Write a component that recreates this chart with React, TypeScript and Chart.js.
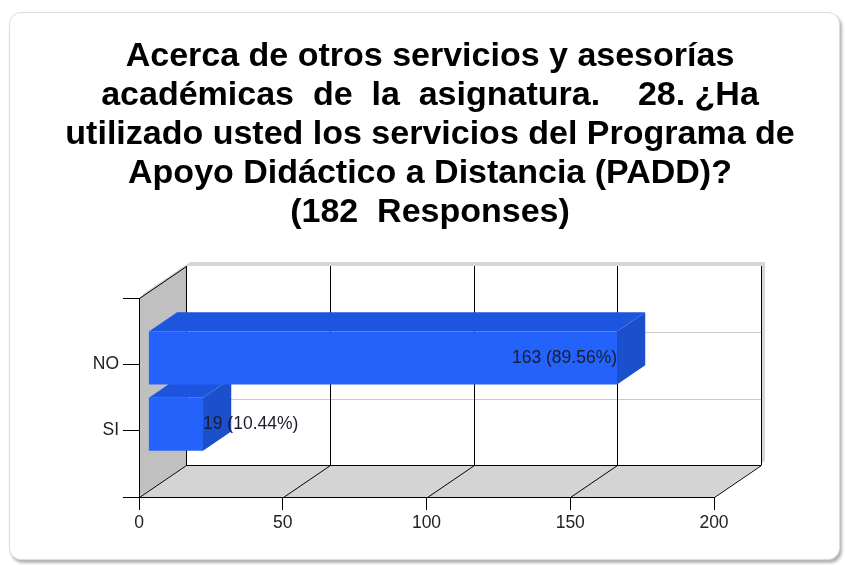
import React, { useEffect, useRef } from 'react';
import { Chart, registerables } from 'chart.js';

Chart.register(...registerables);

// ---- data ----
const TITLE_LINES = [
  'Acerca de otros servicios y asesorías',
  'académicas  de  la  asignatura.    28. ¿Ha',
  'utilizado usted los servicios del Programa de',
  'Apoyo Didáctico a Distancia (PADD)?',
  '(182  Responses)',
];
const CATEGORIES = ['NO', 'SI'];
const VALUES = [163, 19];
const X_MIN = 0;
const X_MAX = 200;
const X_STEP = 50;

// ---- style ----
const FONT = "'Liberation Sans', Arial, Helvetica, sans-serif";
const W = 829;
const H = 546;
const DEPTH = { x: 47, y: -32 };
const BAR_FRONT = 0.2;
const BAR_BACK = 0.8;
const BAR_FRONT_COLOR = '#2463fb';
const BAR_TOP_COLOR = '#1d55df';
const BAR_SIDE_COLOR = '#1c4fcb';

const threeD = {
  id: 'threeD',
  beforeDraw(chart: any) {
    const { ctx, chartArea } = chart;
    const xs = chart.scales.x;
    const ys = chart.scales.y;
    const L = Math.round(xs.getPixelForValue(X_MIN));
    const R = Math.round(xs.getPixelForValue(X_MAX));
    const T = Math.round(chartArea.top);
    const B = Math.round(chartArea.bottom);
    const dx = DEPTH.x;
    const dy = DEPTH.y;
    ctx.save();
    const outline = (ox: number, oy: number) => {
      ctx.beginPath();
      ctx.moveTo(L + ox, T + oy);
      ctx.lineTo(L + dx + ox, T + dy + oy);
      ctx.lineTo(R + dx + ox, T + dy + oy);
      ctx.lineTo(R + dx + ox, B + dy + oy);
      ctx.lineTo(R + ox, B + oy);
      ctx.lineTo(L + ox, B + oy);
      ctx.closePath();
    };
    // shadow
    ctx.fillStyle = '#d6d6d6';
    outline(4, -4);
    ctx.fill();
    // back wall
    ctx.fillStyle = '#ffffff';
    ctx.fillRect(L + dx, T + dy, R - L, B - T);
    // left wall
    ctx.fillStyle = '#c0c0c0';
    ctx.beginPath();
    ctx.moveTo(L, T);
    ctx.lineTo(L + dx, T + dy);
    ctx.lineTo(L + dx, B + dy);
    ctx.lineTo(L, B);
    ctx.closePath();
    ctx.fill();
    // floor
    ctx.fillStyle = '#d4d4d4';
    ctx.beginPath();
    ctx.moveTo(L, B);
    ctx.lineTo(R, B);
    ctx.lineTo(R + dx, B + dy);
    ctx.lineTo(L + dx, B + dy);
    ctx.closePath();
    ctx.fill();

    // horizontal grid on back wall
    ctx.lineWidth = 1;
    ctx.strokeStyle = '#c8c8c8';
    const nLab = chart.data.labels.length;
    for (let i = 1; i < nLab - 1; i++) {
      const y = Math.round(ys.getPixelForValue(i)) + dy + 0.5;
      ctx.beginPath();
      ctx.moveTo(L + dx, y);
      ctx.lineTo(R + dx, y);
      ctx.stroke();
    }
    // vertical grid on back wall + floor diagonals
    ctx.strokeStyle = '#000';
    for (let v = X_MIN; v <= X_MAX; v += X_STEP) {
      const x = Math.round(xs.getPixelForValue(v)) + 0.5;
      ctx.beginPath();
      ctx.moveTo(x + dx, T + dy);
      ctx.lineTo(x + dx, B + dy);
      ctx.stroke();
      ctx.beginPath();
      ctx.moveTo(x, B + 0.5);
      ctx.lineTo(x + dx, B + dy + 0.5);
      ctx.stroke();
    }
    // floor back edge
    ctx.beginPath();
    ctx.moveTo(L + dx, B + dy + 0.5);
    ctx.lineTo(R + dx, B + dy + 0.5);
    ctx.stroke();
    // left wall top edge
    ctx.beginPath();
    ctx.moveTo(L + 0.5, T + 0.5);
    ctx.lineTo(L + dx + 0.5, T + dy + 0.5);
    ctx.stroke();
    ctx.restore();
  },
  beforeDatasetsDraw(chart: any) {
    const { ctx } = chart;
    const meta = chart.getDatasetMeta(0);
    const data = chart.data.datasets[0].data;
    const f1x = DEPTH.x * BAR_FRONT, f1y = DEPTH.y * BAR_FRONT;
    const f2x = DEPTH.x * BAR_BACK, f2y = DEPTH.y * BAR_BACK;
    ctx.save();
    for (let i = meta.data.length - 1; i >= 0; i--) {
      if (data[i] == null) continue;
      const { x, y, base, height } = meta.data[i].getProps(['x', 'y', 'base', 'height'], true);
      const top = y - height / 2;
      const bottom = y + height / 2;
      // side face
      ctx.fillStyle = BAR_SIDE_COLOR;
      ctx.beginPath();
      ctx.moveTo(x + f1x, top + f1y);
      ctx.lineTo(x + f2x, top + f2y);
      ctx.lineTo(x + f2x, bottom + f2y);
      ctx.lineTo(x + f1x, bottom + f1y);
      ctx.closePath();
      ctx.fill();
      // top face
      ctx.fillStyle = BAR_TOP_COLOR;
      ctx.beginPath();
      ctx.moveTo(base + f1x, top + f1y);
      ctx.lineTo(x + f1x, top + f1y);
      ctx.lineTo(x + f2x, top + f2y);
      ctx.lineTo(base + f2x, top + f2y);
      ctx.closePath();
      ctx.fill();
    }
    ctx.restore();
  },
  beforeDatasetDraw(chart: any) {
    chart.ctx.save();
    chart.ctx.translate(DEPTH.x * BAR_FRONT, DEPTH.y * BAR_FRONT);
  },
  afterDatasetDraw(chart: any) {
    chart.ctx.restore();
  },
  afterDatasetsDraw(chart: any) {
    const { ctx } = chart;
    const meta = chart.getDatasetMeta(0);
    const data = chart.data.datasets[0].data;
    const total = VALUES.reduce((a, b) => a + b, 0);
    const f1x = DEPTH.x * BAR_FRONT, f1y = DEPTH.y * BAR_FRONT;
    ctx.save();
    ctx.font = `17.5px ${FONT}`;
    ctx.fillStyle = '#1c1c2c';
    ctx.textBaseline = 'middle';
    for (let i = 0; i < meta.data.length; i++) {
      const v = data[i];
      if (v == null) continue;
      const { x, y, base } = meta.data[i].getProps(['x', 'y', 'base'], true);
      const txt = `${v} (${((v / total) * 100).toFixed(2)}%)`;
      const w = ctx.measureText(txt).width;
      const right = x + f1x;
      if (w + 6 < x - base) {
        ctx.textAlign = 'right';
      } else {
        ctx.textAlign = 'left';
      }
      ctx.fillText(txt, right, y + f1y);
    }
    ctx.restore();
  },
  afterDraw(chart: any) {
    const { ctx } = chart;
    ctx.save();
    ctx.font = `bold 34px ${FONT}`;
    ctx.fillStyle = '#000';
    ctx.textAlign = 'center';
    ctx.textBaseline = 'alphabetic';
    TITLE_LINES.forEach((line, i) => {
      ctx.fillText(line, 420, 53 + i * 39);
    });
    ctx.restore();
  },
};

export default function App() {
  const ref = useRef<HTMLCanvasElement>(null);
  useEffect(() => {
    if (!ref.current) return;
    const labels = ['', ...CATEGORIES, ''];
    const chart = new Chart(ref.current, {
      type: 'bar',
      data: {
        labels,
        datasets: [
          {
            data: [null, ...VALUES, null],
            backgroundColor: BAR_FRONT_COLOR,
            borderWidth: 0,
            barPercentage: 0.8,
            categoryPercentage: 1,
            clip: false,
          } as any,
        ],
      },
      options: {
        responsive: false,
        animation: false,
        indexAxis: 'y',
        layout: { padding: { top: 285, right: 125, left: 0, bottom: 0 } },
        plugins: {
          legend: { display: false },
          title: { display: false },
          tooltip: { enabled: false },
        },
        scales: {
          x: {
            type: 'linear',
            min: X_MIN,
            max: X_MAX,
            ticks: { stepSize: X_STEP, color: '#222', font: { family: FONT, size: 17.5 }, padding: 3 },
            grid: { drawOnChartArea: false, drawTicks: true, tickLength: 13, color: '#000' },
            border: { color: '#000', width: 1 },
            afterFit(s: any) { s.height = 62; },
          },
          y: {
            type: 'category',
            offset: false,
            ticks: { color: '#222', font: { family: FONT, size: 17.5 }, padding: 4, autoSkip: false },
            grid: { drawOnChartArea: false, offset: false, drawTicks: true, tickLength: 16, color: '#000' },
            border: { color: '#000', width: 1 },
            afterFit(s: any) { s.width = 129; },
          },
        },
      } as any,
      plugins: [threeD],
    });
    return () => chart.destroy();
  }, []);
  return (
    <div
      style={{
        position: 'absolute',
        left: 9,
        top: 12,
        width: 831,
        height: 548,
        boxSizing: 'border-box',
        border: '1px solid #dcdcdc',
        borderRadius: 12,
        boxShadow: '2px 3px 3px rgba(0,0,0,0.3)',
        background: '#fff',
        overflow: 'hidden',
      }}
    >
      <canvas ref={ref} width={W} height={H} style={{ display: 'block' }} />
    </div>
  );
}
